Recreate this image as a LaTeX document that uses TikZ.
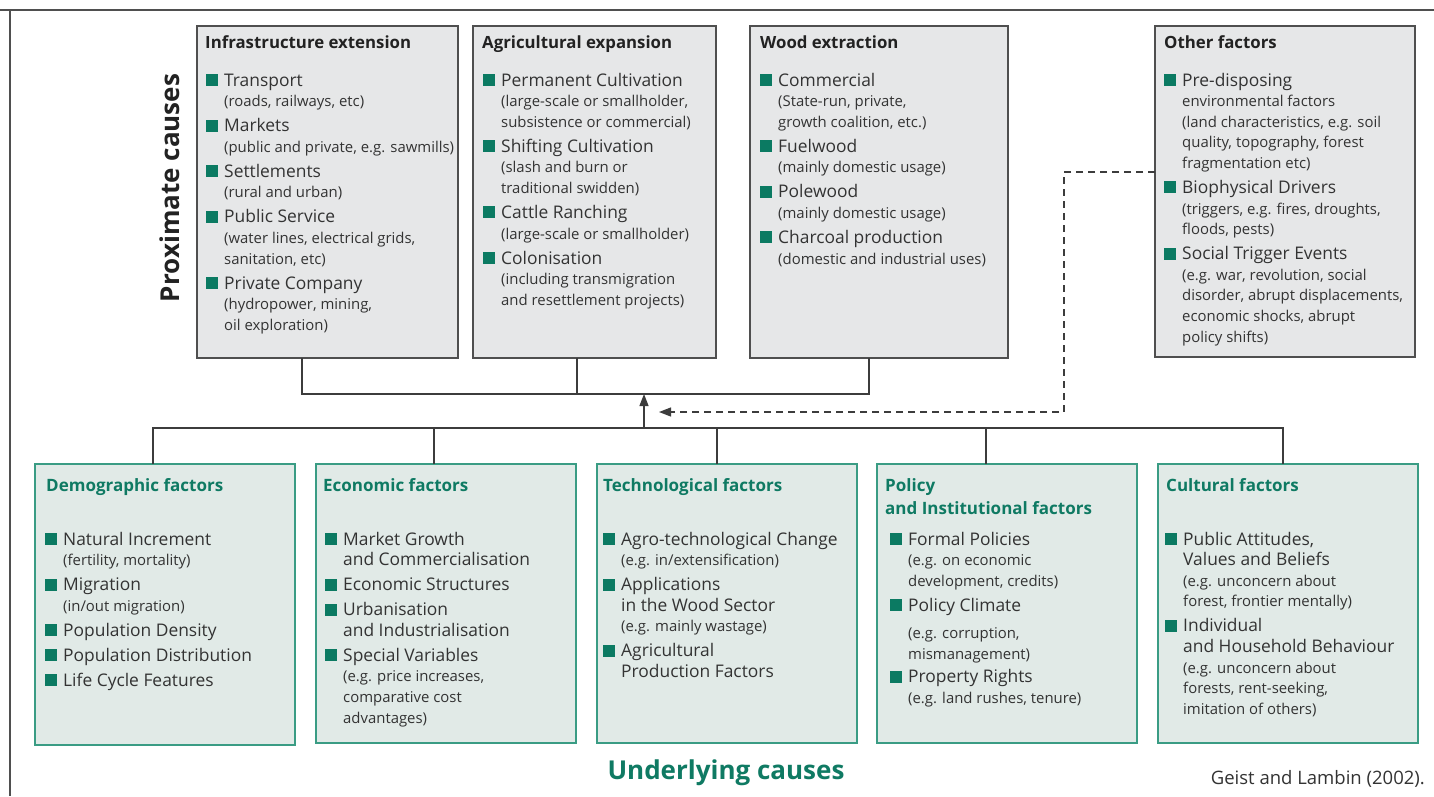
\documentclass[tikz,border=0pt]{standalone}
\usepackage{fontspec}
\setmainfont{Open Sans}
\usetikzlibrary{arrows.meta,calc}

\definecolor{boxgray}{HTML}{E6E7E8}
\definecolor{boxedge}{HTML}{4F4F4F}
\definecolor{greenfill}{HTML}{E1EAE7}
\definecolor{greenedge}{HTML}{3A9C84}
\definecolor{tealtxt}{HTML}{0F7A63}
\definecolor{bul}{HTML}{0B7A62}
\definecolor{txt}{HTML}{333333}
\definecolor{ttldark}{HTML}{222222}
\definecolor{linegray}{HTML}{3C3C3C}

% list typography
\newcommand{\itemfont}{\fontsize{17.4}{20.6}\selectfont}
\newcommand{\subfont}{\fontsize{14.9}{20.6}\selectfont}
\newcommand{\bsq}{\llap{\textcolor{bul}{\rule{12pt}{12pt}}\hspace{6.5pt}}}
\newcommand{\bi}[1]{\par{\itemfont\noindent\bsq #1\par}}
\newcommand{\bc}[1]{{\itemfont\noindent #1\par}}
\newcommand{\bs}[1]{{\subfont\noindent #1\par}}
\newcommand{\gp}{\vspace{4.4pt}}
\newcommand{\blist}[1]{\begin{minipage}[t]{250pt}\raggedright\parskip=0pt #1\end{minipage}}

\tikzset{
  graybox/.style={draw=boxedge, line width=1.3pt, fill=boxgray, inner sep=0pt, outer sep=0pt, anchor=north west},
  greenbox/.style={draw=greenedge, line width=1.5pt, fill=greenfill, inner sep=0pt, outer sep=0pt, anchor=north west},
  toptitle/.style={inner sep=0pt, anchor=base west, text=ttldark, font=\fontsize{16.8}{20}\selectfont\bfseries},
  bottitle/.style={inner sep=0pt, anchor=base west, text=tealtxt, font=\fontsize{17}{23}\selectfont\bfseries},
  listnode/.style={inner sep=0pt, anchor=base west, text=txt},
  link/.style={draw=linegray, line width=1.2pt},
  dlink/.style={draw=linegray, line width=1.2pt, dash pattern=on 7pt off 5pt},
  tip/.style={-{Triangle[length=12pt,width=9pt]}}
}

\begin{document}
\begin{tikzpicture}[x=1pt,y=-1pt]
\useasboundingbox (0,0) rectangle (1434,796);
\fill[white] (0,0) rectangle (1434,796);

% frame
\draw[draw=boxedge, line width=2pt] (0,9.5) -- (1434,9.5);
\draw[draw=boxedge, line width=2pt] (9.5,9.5) -- (9.5,796);

% proximate causes
\node[graybox, minimum width=261pt, minimum height=332pt] (infra) at (197,26) {};
\node[graybox, minimum width=243pt, minimum height=332pt] (agri) at (473,26) {};
\node[graybox, minimum width=258pt, minimum height=332pt] (wood) at (750,26) {};
\node[graybox, minimum width=260pt, minimum height=331pt] (other) at (1155,26) {};

\node[toptitle] (infra-t) at (205,48) {Infrastructure extension};
\node[toptitle] (agri-t) at (482,48) {Agricultural expansion};
\node[toptitle] (wood-t) at (760,48) {Wood extraction};
\node[toptitle] (other-t) at (1164,48) {Other factors};

\node[listnode] (infra-l) at (224,86) {\blist{%
\bi{Transport}\bs{(roads, railways, etc)}\gp
\bi{Markets}\bs{(public and private, e.g. sawmills)}\gp
\bi{Settlements}\bs{(rural and urban)}\gp
\bi{Public Service}\bs{(water lines, electrical grids,}\bs{sanitation, etc)}\gp
\bi{Private Company}\bs{(hydropower, mining,}\bs{oil exploration)}}};

\node[listnode] (agri-l) at (501,86) {\blist{%
\bi{Permanent Cultivation}\bs{(large-scale or smallholder,}\bs{subsistence or commercial)}\gp
\bi{Shifting Cultivation}\bs{(slash and burn or}\bs{traditional swidden)}\gp
\bi{Cattle Ranching}\bs{(large-scale or smallholder)}\gp
\bi{Colonisation}\bs{(including transmigration}\bs{and resettlement projects)}}};

\node[listnode] (wood-l) at (778,86) {\blist{%
\bi{Commercial}\bs{(State-run, private,}\bs{growth coalition, etc.)}\gp
\bi{Fuelwood}\bs{(mainly domestic usage)}\gp
\bi{Polewood}\bs{(mainly domestic usage)}\gp
\bi{Charcoal production}\bs{(domestic and industrial uses)}}};

\node[listnode] (other-l) at (1182,86) {\blist{%
\bi{Pre-disposing}\bs{environmental factors}\bs{(land characteristics, e.g. soil}\bs{quality, topography, forest}\bs{fragmentation etc)}\gp
\bi{Biophysical Drivers}\bs{(triggers, e.g. fires, droughts,}\bs{floods, pests)}\gp
\bi{Social Trigger Events}\bs{(e.g. war, revolution, social}\bs{disorder, abrupt displacements,}\bs{economic shocks, abrupt}\bs{policy shifts)}}};

\node[rotate=90, inner sep=0pt, text=ttldark, font=\fontsize{26}{30}\selectfont\bfseries] (prox) at (170,188) {Proximate causes};

% underlying causes
\node[greenbox, minimum width=260pt, minimum height=281pt] (demo) at (35,464) {};
\node[greenbox, minimum width=260pt, minimum height=279pt] (econ) at (316,464) {};
\node[greenbox, minimum width=260pt, minimum height=279pt] (tech) at (597,464) {};
\node[greenbox, minimum width=260pt, minimum height=279pt] (policy) at (877,464) {};
\node[greenbox, minimum width=260pt, minimum height=279pt] (cult) at (1158,464) {};

\node[bottitle] (demo-t) at (46,491) {Demographic factors};
\node[bottitle] (econ-t) at (323,491) {Economic factors};
\node[bottitle] (tech-t) at (603,491) {Technological factors};
\node[bottitle] (policy-t) at (885,491) {\begin{minipage}[t]{250pt}\raggedright Policy\par and Institutional factors\end{minipage}};
\node[bottitle] (cult-t) at (1166,491) {Cultural factors};

\node[listnode] (demo-l) at (63,545) {\blist{%
\bi{Natural Increment}\bs{(fertility, mortality)}\gp
\bi{Migration}\bs{(in/out migration)}\gp
\bi{Population Density}\gp
\bi{Population Distribution}\gp
\bi{Life Cycle Features}}};

\node[listnode] (econ-l) at (343,545) {\blist{%
\bi{Market Growth}\bc{and Commercialisation}\gp
\bi{Economic Structures}\gp
\bi{Urbanisation}\bc{and Industrialisation}\gp
\bi{Special Variables}\bs{(e.g. price increases,}\bs{comparative cost}\bs{advantages)}}};

\node[listnode] (tech-l) at (621,545) {\blist{%
\bi{Agro-technological Change}\bs{(e.g. in/extensification)}\gp
\bi{Applications}\bc{in the Wood Sector}\bs{(e.g. mainly wastage)}\gp
\bi{Agricultural}\bc{Production Factors}}};

\node[listnode] (policy-l) at (908,545) {\blist{%
\bi{Formal Policies}\bs{(e.g. on economic}\bs{development, credits)}\gp
\bi{Policy Climate}\vspace{7pt}\bs{(e.g. corruption,}\bs{mismanagement)}\vspace{2.5pt}
\bi{Property Rights}\bs{(e.g. land rushes, tenure)}}};

\node[listnode] (cult-l) at (1183,545) {\blist{%
\bi{Public Attitudes,}\bc{Values and Beliefs}\bs{(e.g. unconcern about}\bs{forest, frontier mentally)}\gp
\bi{Individual}\bc{and Household Behaviour}\bs{(e.g. unconcern about}\bs{forests, rent-seeking,}\bs{imitation of others)}}};

\node[inner sep=0pt, anchor=base, text=tealtxt, font=\fontsize{26}{30}\selectfont\bfseries] (under) at (726,779) {Underlying causes};
\node[inner sep=0pt, anchor=base east, text=txt, font=\fontsize{18.5}{20}\selectfont] (src) at (1425,784) {Geist and Lambin (2002).};

% joining lines of the proximate causes
\coordinate (topjoin) at (644,394);
\coordinate (botjoin) at (644,428);
\draw[link] ($(infra.south west)+(105,0)$) |- ($(wood.south west)+(119,36)$) -- ($(wood.south west)+(119,0)$);
\draw[link] ($(agri.south west)+(104,0)$) -- ($(agri.south west)+(104,36)$);

% bus of the underlying causes
\draw[link] ($(demo.north west)+(118,0)$) |- ($(cult.north west)+(125,-36)$) -- ($(cult.north west)+(125,0)$);
\draw[link] ($(econ.north west)+(118,0)$) -- ++(0,-36);
\draw[link] ($(tech.north west)+(120,0)$) -- ++(0,-36);
\draw[link] ($(policy.north west)+(109,0)$) -- ++(0,-36);

% influence arrows
\draw[link, tip] (botjoin) -- (topjoin);
\coordinate (dashcorner) at (1064,412);
\draw[dlink, tip] ($(other.north west)+(0,146)$) -| (dashcorner) -- (659,412);
\end{tikzpicture}
\end{document}
